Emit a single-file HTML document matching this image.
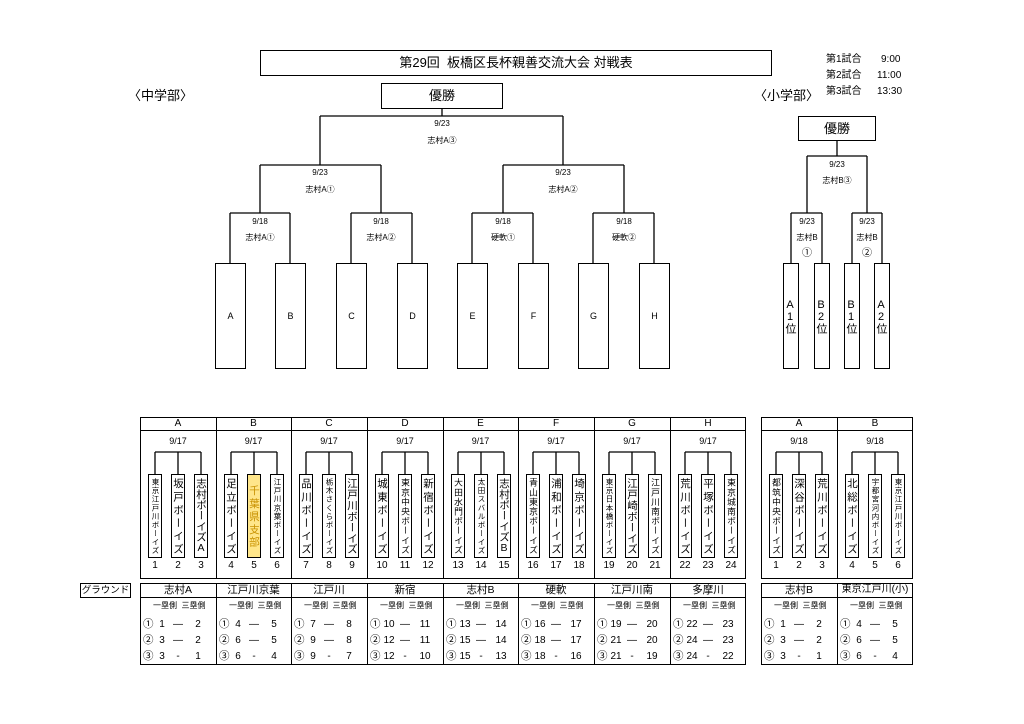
<!DOCTYPE html>
<html><head><meta charset="utf-8">
<style>
*{margin:0;padding:0}
body{width:1024px;height:724px;background:#fff;position:relative;overflow:hidden;font-family:"Liberation Sans","Noto Sans CJK JP",sans-serif;color:#000}
.a{position:absolute}
.bx{position:absolute;border:1px solid #000;box-sizing:border-box;background:#fff}
.t{position:absolute;text-align:center;white-space:nowrap;line-height:1}
.n{position:absolute;top:474px;width:14px;height:84px;border:1px solid #000;box-sizing:border-box;writing-mode:vertical-rl;text-orientation:upright;text-align-last:justify;padding:3px 0;font-size:10.5px;line-height:12px;overflow:hidden;background:#fff}
.s{font-size:7.5px}
.m{font-size:8.8px}
.num{position:absolute;top:561px;width:20px;text-align:center;font-size:10px;line-height:1}
.lf{position:absolute;top:263px;height:106px;border:1px solid #000;box-sizing:border-box;font-size:9px;display:flex;align-items:center;justify-content:center;background:#fff}
.sl{position:absolute;top:263px;width:16px;height:106px;border:1px solid #000;box-sizing:border-box;font-size:11px;writing-mode:vertical-rl;text-orientation:upright;text-align:center;line-height:16px;background:#fff}
.lb{position:absolute;font-size:8px;text-align:center;width:60px;line-height:1}
</style></head><body>

<svg class="a" style="left:0;top:0" width="1024" height="724">
<g stroke="#000" stroke-width="1.3" fill="none">
<path d="M442 108V116M320 116H563M320 116V165M563 116V165M260 165H381M503 165H624M260 165V213M381 165V213M503 165V213M624 165V213M230 213H290M351 213H412M472 213H533M593 213H654M230 213V263M290 213V263M351 213V263M412 213V263M472 213V263M533 213V263M593 213V263M654 213V263"/>
<path d="M837 140V156M807 156H867M807 156V213M867 156V213M791 213H822M852 213H882M791 213V263M822 213V263M852 213V263M882 213V263"/>
<path d="M155 452H201M155 452V474M178 452V474M201 452V474
M231 452H277M231 452V474M254 452V474M277 452V474
M306 452H352M306 452V474M329 452V474M352 452V474
M382 452H428M382 452V474M405 452V474M428 452V474
M458 452H504M458 452V474M481 452V474M504 452V474
M533 452H579M533 452V474M556 452V474M579 452V474
M609 452H655M609 452V474M632 452V474M655 452V474
M685 452H731M685 452V474M708 452V474M731 452V474
M776 452H822M776 452V474M799 452V474M822 452V474
M852 452H898M852 452V474M875 452V474M898 452V474"/>
</g>
</svg>

<div class="bx" style="left:260px;top:50px;width:512px;height:26px"></div>
<div class="t" style="left:260px;top:56px;width:512px;font-size:13px">第29回&nbsp; 板橋区長杯親善交流大会 対戦表</div>
<div class="t" style="left:826px;top:55px;font-size:10px">第1試合</div><div class="t" style="left:881px;top:55px;font-size:10px">9:00</div>
<div class="t" style="left:826px;top:71px;font-size:10px">第2試合</div><div class="t" style="left:877px;top:71px;font-size:10px">11:00</div>
<div class="t" style="left:826px;top:87px;font-size:10px">第3試合</div><div class="t" style="left:877px;top:87px;font-size:10px">13:30</div>
<div class="t" style="left:128px;top:89px;font-size:13px">〈中学部〉</div>
<div class="t" style="left:754px;top:89px;font-size:13px">〈小学部〉</div>

<div class="bx" style="left:381px;top:83px;width:122px;height:26px"></div>
<div class="t" style="left:381px;top:89px;width:122px;font-size:13px">優勝</div>
<div class="bx" style="left:798px;top:116px;width:78px;height:25px"></div>
<div class="t" style="left:798px;top:122px;width:78px;font-size:13px">優勝</div>

<div class="lb" style="left:412px;top:120px">9/23</div><div class="lb" style="left:412px;top:137px">志村A③</div>
<div class="lb" style="left:290px;top:169px">9/23</div><div class="lb" style="left:290px;top:186px">志村A①</div>
<div class="lb" style="left:533px;top:169px">9/23</div><div class="lb" style="left:533px;top:186px">志村A②</div>
<div class="lb" style="left:230px;top:218px">9/18</div><div class="lb" style="left:230px;top:234px">志村A①</div>
<div class="lb" style="left:351px;top:218px">9/18</div><div class="lb" style="left:351px;top:234px">志村A②</div>
<div class="lb" style="left:473px;top:218px">9/18</div><div class="lb" style="left:473px;top:234px">硬軟①</div>
<div class="lb" style="left:594px;top:218px">9/18</div><div class="lb" style="left:594px;top:234px">硬軟②</div>
<div class="lb" style="left:807px;top:161px">9/23</div><div class="lb" style="left:807px;top:177px">志村B③</div>
<div class="lb" style="left:777px;top:218px">9/23</div><div class="lb" style="left:777px;top:234px">志村B</div><div class="lb" style="left:777px;top:249px;font-size:10px">①</div>
<div class="lb" style="left:837px;top:218px">9/23</div><div class="lb" style="left:837px;top:234px">志村B</div><div class="lb" style="left:837px;top:249px;font-size:10px">②</div>

<div class="lf" style="left:215px;width:31px">A</div>
<div class="lf" style="left:275px;width:31px">B</div>
<div class="lf" style="left:336px;width:31px">C</div>
<div class="lf" style="left:397px;width:31px">D</div>
<div class="lf" style="left:457px;width:31px">E</div>
<div class="lf" style="left:518px;width:31px">F</div>
<div class="lf" style="left:578px;width:31px">G</div>
<div class="lf" style="left:639px;width:31px">H</div>
<div class="sl" style="left:783px">A1位</div>
<div class="sl" style="left:814px">B2位</div>
<div class="sl" style="left:844px">B1位</div>
<div class="sl" style="left:874px">A2位</div>

<div class="bx" style="left:140px;top:417px;width:606px;height:162px;background:none"></div>
<div class="a" style="left:140px;top:430px;width:606px;border-top:1px solid #000"></div>
<div class="bx" style="left:761px;top:417px;width:152px;height:162px;background:none"></div>
<div class="a" style="left:761px;top:430px;width:152px;border-top:1px solid #000"></div>
<div class="bx" style="left:140px;top:583px;width:606px;height:82px;background:none"></div>
<div class="a" style="left:140px;top:597px;width:606px;border-top:1px solid #000"></div>
<div class="bx" style="left:761px;top:583px;width:152px;height:82px;background:none"></div>
<div class="a" style="left:761px;top:597px;width:152px;border-top:1px solid #000"></div>
<div class="bx" style="left:80px;top:583px;width:51px;height:15px"></div>
<div class="t" style="left:80px;top:586px;width:51px;font-size:9.5px">グラウンド</div>

<div class="a" style="left:216px;top:417px;height:162px;border-left:1px solid #000"></div>
<div class="a" style="left:291px;top:417px;height:162px;border-left:1px solid #000"></div>
<div class="a" style="left:367px;top:417px;height:162px;border-left:1px solid #000"></div>
<div class="a" style="left:443px;top:417px;height:162px;border-left:1px solid #000"></div>
<div class="a" style="left:518px;top:417px;height:162px;border-left:1px solid #000"></div>
<div class="a" style="left:594px;top:417px;height:162px;border-left:1px solid #000"></div>
<div class="a" style="left:670px;top:417px;height:162px;border-left:1px solid #000"></div>
<div class="a" style="left:837px;top:417px;height:162px;border-left:1px solid #000"></div>
<div class="a" style="left:216px;top:583px;height:82px;border-left:1px solid #000"></div>
<div class="a" style="left:291px;top:583px;height:82px;border-left:1px solid #000"></div>
<div class="a" style="left:367px;top:583px;height:82px;border-left:1px solid #000"></div>
<div class="a" style="left:443px;top:583px;height:82px;border-left:1px solid #000"></div>
<div class="a" style="left:518px;top:583px;height:82px;border-left:1px solid #000"></div>
<div class="a" style="left:594px;top:583px;height:82px;border-left:1px solid #000"></div>
<div class="a" style="left:670px;top:583px;height:82px;border-left:1px solid #000"></div>
<div class="a" style="left:837px;top:583px;height:82px;border-left:1px solid #000"></div>

<div class="t" style="left:140px;top:419px;width:76px;font-size:10px">A</div>
<div class="t" style="left:216px;top:419px;width:75px;font-size:10px">B</div>
<div class="t" style="left:291px;top:419px;width:76px;font-size:10px">C</div>
<div class="t" style="left:367px;top:419px;width:76px;font-size:10px">D</div>
<div class="t" style="left:443px;top:419px;width:75px;font-size:10px">E</div>
<div class="t" style="left:518px;top:419px;width:76px;font-size:10px">F</div>
<div class="t" style="left:594px;top:419px;width:76px;font-size:10px">G</div>
<div class="t" style="left:670px;top:419px;width:76px;font-size:10px">H</div>
<div class="t" style="left:761px;top:419px;width:76px;font-size:10px">A</div>
<div class="t" style="left:837px;top:419px;width:76px;font-size:10px">B</div>

<div class="t" style="left:140px;top:437px;width:76px;font-size:9px">9/17</div>
<div class="t" style="left:216px;top:437px;width:75px;font-size:9px">9/17</div>
<div class="t" style="left:291px;top:437px;width:76px;font-size:9px">9/17</div>
<div class="t" style="left:367px;top:437px;width:76px;font-size:9px">9/17</div>
<div class="t" style="left:443px;top:437px;width:75px;font-size:9px">9/17</div>
<div class="t" style="left:518px;top:437px;width:76px;font-size:9px">9/17</div>
<div class="t" style="left:594px;top:437px;width:76px;font-size:9px">9/17</div>
<div class="t" style="left:670px;top:437px;width:76px;font-size:9px">9/17</div>
<div class="t" style="left:761px;top:437px;width:76px;font-size:9px">9/18</div>
<div class="t" style="left:837px;top:437px;width:76px;font-size:9px">9/18</div>

<div class="n s" style="left:148px">東京江戸川ボーイズ</div>
<div class="n" style="left:171px">坂戸ボーイズ</div>
<div class="n" style="left:194px">志村ボーイズA</div>
<div class="n" style="left:224px">足立ボーイズ</div>
<div class="n" style="left:247px;background:#ffe68a;color:#c89100;padding:10px 0">千葉県支部</div>
<div class="n s" style="left:270px">江戸川京葉ボーイズ</div>
<div class="n" style="left:299px">品川ボーイズ</div>
<div class="n s" style="left:322px">栃木さくらボーイズ</div>
<div class="n" style="left:345px">江戸川ボーイズ</div>
<div class="n" style="left:375px">城東ボーイズ</div>
<div class="n m" style="left:398px">東京中央ボーイズ</div>
<div class="n" style="left:421px">新宿ボーイズ</div>
<div class="n m" style="left:451px">大田水門ボーイズ</div>
<div class="n s" style="left:474px">太田スバルボーイズ</div>
<div class="n" style="left:497px">志村ボーイズB</div>
<div class="n m" style="left:526px">青山東京ボーイズ</div>
<div class="n" style="left:549px">浦和ボーイズ</div>
<div class="n" style="left:572px">埼京ボーイズ</div>
<div class="n s" style="left:602px">東京日本橋ボーイズ</div>
<div class="n" style="left:625px">江戸崎ボーイズ</div>
<div class="n m" style="left:648px">江戸川南ボーイズ</div>
<div class="n" style="left:678px">荒川ボーイズ</div>
<div class="n" style="left:701px">平塚ボーイズ</div>
<div class="n m" style="left:724px">東京城南ボーイズ</div>
<div class="n m" style="left:769px">都筑中央ボーイズ</div>
<div class="n" style="left:792px">深谷ボーイズ</div>
<div class="n" style="left:815px">荒川ボーイズ</div>
<div class="n" style="left:845px">北総ボーイズ</div>
<div class="n s" style="left:868px">宇都宮河内ボーイズ</div>
<div class="n s" style="left:891px">東京江戸川ボーイズ</div>

<div class="num" style="left:145px">1</div><div class="num" style="left:168px">2</div><div class="num" style="left:191px">3</div>
<div class="num" style="left:221px">4</div><div class="num" style="left:244px">5</div><div class="num" style="left:267px">6</div>
<div class="num" style="left:296px">7</div><div class="num" style="left:319px">8</div><div class="num" style="left:342px">9</div>
<div class="num" style="left:372px">10</div><div class="num" style="left:395px">11</div><div class="num" style="left:418px">12</div>
<div class="num" style="left:448px">13</div><div class="num" style="left:471px">14</div><div class="num" style="left:494px">15</div>
<div class="num" style="left:523px">16</div><div class="num" style="left:546px">17</div><div class="num" style="left:569px">18</div>
<div class="num" style="left:599px">19</div><div class="num" style="left:622px">20</div><div class="num" style="left:645px">21</div>
<div class="num" style="left:675px">22</div><div class="num" style="left:698px">23</div><div class="num" style="left:721px">24</div>
<div class="num" style="left:766px">1</div><div class="num" style="left:789px">2</div><div class="num" style="left:812px">3</div>
<div class="num" style="left:842px">4</div><div class="num" style="left:865px">5</div><div class="num" style="left:888px">6</div>

<div class="t" style="left:140px;top:585px;width:76px;font-size:10.5px">志村A</div>
<div class="t" style="left:216px;top:585px;width:75px;font-size:10.5px">江戸川京葉</div>
<div class="t" style="left:291px;top:585px;width:76px;font-size:10.5px">江戸川</div>
<div class="t" style="left:367px;top:585px;width:76px;font-size:10.5px">新宿</div>
<div class="t" style="left:443px;top:585px;width:75px;font-size:10.5px">志村B</div>
<div class="t" style="left:518px;top:585px;width:76px;font-size:10.5px">硬軟</div>
<div class="t" style="left:594px;top:585px;width:76px;font-size:10.5px">江戸川南</div>
<div class="t" style="left:670px;top:585px;width:76px;font-size:10.5px">多摩川</div>
<div class="t" style="left:761px;top:585px;width:76px;font-size:10.5px">志村B</div>
<div class="t" style="left:837px;top:585px;width:76px;font-size:10px">東京江戸川(小)</div>

<div class="t" style="left:153px;top:602px;font-size:8px">一塁側&nbsp;&nbsp;三塁側</div>
<div class="t" style="left:229px;top:602px;font-size:8px">一塁側&nbsp;&nbsp;三塁側</div>
<div class="t" style="left:304px;top:602px;font-size:8px">一塁側&nbsp;&nbsp;三塁側</div>
<div class="t" style="left:380px;top:602px;font-size:8px">一塁側&nbsp;&nbsp;三塁側</div>
<div class="t" style="left:456px;top:602px;font-size:8px">一塁側&nbsp;&nbsp;三塁側</div>
<div class="t" style="left:531px;top:602px;font-size:8px">一塁側&nbsp;&nbsp;三塁側</div>
<div class="t" style="left:607px;top:602px;font-size:8px">一塁側&nbsp;&nbsp;三塁側</div>
<div class="t" style="left:683px;top:602px;font-size:8px">一塁側&nbsp;&nbsp;三塁側</div>
<div class="t" style="left:774px;top:602px;font-size:8px">一塁側&nbsp;&nbsp;三塁側</div>
<div class="t" style="left:850px;top:602px;font-size:8px">一塁側&nbsp;&nbsp;三塁側</div>

<div class="a" style="left:143px;top:616px;font-size:10.5px;line-height:16px">①<br>②<br>③</div>
<div class="a" style="left:219px;top:616px;font-size:10.5px;line-height:16px">①<br>②<br>③</div>
<div class="a" style="left:294px;top:616px;font-size:10.5px;line-height:16px">①<br>②<br>③</div>
<div class="a" style="left:370px;top:616px;font-size:10.5px;line-height:16px">①<br>②<br>③</div>
<div class="a" style="left:446px;top:616px;font-size:10.5px;line-height:16px">①<br>②<br>③</div>
<div class="a" style="left:521px;top:616px;font-size:10.5px;line-height:16px">①<br>②<br>③</div>
<div class="a" style="left:597px;top:616px;font-size:10.5px;line-height:16px">①<br>②<br>③</div>
<div class="a" style="left:673px;top:616px;font-size:10.5px;line-height:16px">①<br>②<br>③</div>
<div class="a" style="left:764px;top:616px;font-size:10.5px;line-height:16px">①<br>②<br>③</div>
<div class="a" style="left:840px;top:616px;font-size:10.5px;line-height:16px">①<br>②<br>③</div>

<div class="a" style="left:152px;top:617px;width:20px;text-align:center;font-size:10px;line-height:16px">1<br>3<br>3</div>
<div class="a" style="left:170px;top:617px;width:16px;text-align:center;font-size:10px;line-height:16px">—<br>—<br>-</div>
<div class="a" style="left:188px;top:617px;width:20px;text-align:center;font-size:10px;line-height:16px">2<br>2<br>1</div>

<div class="a" style="left:228px;top:617px;width:20px;text-align:center;font-size:10px;line-height:16px">4<br>6<br>6</div>
<div class="a" style="left:246px;top:617px;width:16px;text-align:center;font-size:10px;line-height:16px">—<br>—<br>-</div>
<div class="a" style="left:264px;top:617px;width:20px;text-align:center;font-size:10px;line-height:16px">5<br>5<br>4</div>

<div class="a" style="left:303px;top:617px;width:20px;text-align:center;font-size:10px;line-height:16px">7<br>9<br>9</div>
<div class="a" style="left:321px;top:617px;width:16px;text-align:center;font-size:10px;line-height:16px">—<br>—<br>-</div>
<div class="a" style="left:339px;top:617px;width:20px;text-align:center;font-size:10px;line-height:16px">8<br>8<br>7</div>

<div class="a" style="left:379px;top:617px;width:20px;text-align:center;font-size:10px;line-height:16px">10<br>12<br>12</div>
<div class="a" style="left:397px;top:617px;width:16px;text-align:center;font-size:10px;line-height:16px">—<br>—<br>-</div>
<div class="a" style="left:415px;top:617px;width:20px;text-align:center;font-size:10px;line-height:16px">11<br>11<br>10</div>

<div class="a" style="left:455px;top:617px;width:20px;text-align:center;font-size:10px;line-height:16px">13<br>15<br>15</div>
<div class="a" style="left:473px;top:617px;width:16px;text-align:center;font-size:10px;line-height:16px">—<br>—<br>-</div>
<div class="a" style="left:491px;top:617px;width:20px;text-align:center;font-size:10px;line-height:16px">14<br>14<br>13</div>

<div class="a" style="left:530px;top:617px;width:20px;text-align:center;font-size:10px;line-height:16px">16<br>18<br>18</div>
<div class="a" style="left:548px;top:617px;width:16px;text-align:center;font-size:10px;line-height:16px">—<br>—<br>-</div>
<div class="a" style="left:566px;top:617px;width:20px;text-align:center;font-size:10px;line-height:16px">17<br>17<br>16</div>

<div class="a" style="left:606px;top:617px;width:20px;text-align:center;font-size:10px;line-height:16px">19<br>21<br>21</div>
<div class="a" style="left:624px;top:617px;width:16px;text-align:center;font-size:10px;line-height:16px">—<br>—<br>-</div>
<div class="a" style="left:642px;top:617px;width:20px;text-align:center;font-size:10px;line-height:16px">20<br>20<br>19</div>

<div class="a" style="left:682px;top:617px;width:20px;text-align:center;font-size:10px;line-height:16px">22<br>24<br>24</div>
<div class="a" style="left:700px;top:617px;width:16px;text-align:center;font-size:10px;line-height:16px">—<br>—<br>-</div>
<div class="a" style="left:718px;top:617px;width:20px;text-align:center;font-size:10px;line-height:16px">23<br>23<br>22</div>

<div class="a" style="left:773px;top:617px;width:20px;text-align:center;font-size:10px;line-height:16px">1<br>3<br>3</div>
<div class="a" style="left:791px;top:617px;width:16px;text-align:center;font-size:10px;line-height:16px">—<br>—<br>-</div>
<div class="a" style="left:809px;top:617px;width:20px;text-align:center;font-size:10px;line-height:16px">2<br>2<br>1</div>

<div class="a" style="left:849px;top:617px;width:20px;text-align:center;font-size:10px;line-height:16px">4<br>6<br>6</div>
<div class="a" style="left:867px;top:617px;width:16px;text-align:center;font-size:10px;line-height:16px">—<br>—<br>-</div>
<div class="a" style="left:885px;top:617px;width:20px;text-align:center;font-size:10px;line-height:16px">5<br>5<br>4</div>

</body></html>
